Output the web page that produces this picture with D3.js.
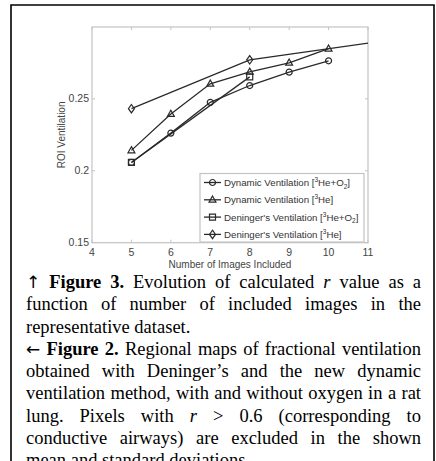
<!DOCTYPE html>
<html>
<head>
<meta charset="utf-8">
<script src="https://cdn.jsdelivr.net/npm/d3@7"></script>
<style>
  html, body { margin: 0; padding: 0; background: #fff; overflow: hidden; }
  #page { position: relative; width: 436px; height: 461px; overflow: hidden; }
  #chart { position: absolute; left: 0; top: 0; }
  #caption { position: absolute; left: 26px; top: 271px; width: 395px;
             font-family: "Liberation Serif", "Times New Roman", serif; font-size: 18.5px; color: #000; }
  .cl { height: 22.3px; line-height: 22.3px; white-space: nowrap; }
  .cl.j { text-align: justify; text-align-last: justify; }
  .arr { font-family: "DejaVu Sans", sans-serif; font-size: 17px; }
</style>
</head>
<body>
<div id="page">
  <svg id="chart" width="436" height="461"></svg>
  <div id="caption"></div>
</div>
<script>
// data
const xTicks = [4, 5, 6, 7, 8, 9, 10, 11];
const yTicks = [0.15, 0.2, 0.25];

const dynO2X = [5, 6, 7, 8, 9, 10];
const dynO2Y = [0.2058, 0.2262, 0.2476, 0.2593, 0.2686, 0.2765];

const dynHeX = [5, 6, 7, 8, 9, 10];
const dynHeY = [0.2142, 0.2395, 0.2605, 0.2688, 0.2751, 0.2849];

const denO2X = [5, 8];
const denO2Y = [0.2058, 0.2653];

const denHeX = [5, 8, 14];
const denHeY = [0.2432, 0.2772, 0.3004];

const seriesNames = [
  ["Dynamic Ventilation [", "3", "He+O", "2", "]"],
  ["Dynamic Ventilation [", "3", "He", "", "]"],
  ["Deninger's Ventilation [", "3", "He+O", "2", "]"],
  ["Deninger's Ventilation [", "3", "He", "", "]"]
];
const markers = ["circle", "triangle", "square", "diamond"];

const captionLines = [
  ["<span class='arr'>\u2191</span> <b>Figure 3.</b> Evolution of calculated <i>r</i> value as a", true],
  ["function of number of included images in the", true],
  ["representative dataset.", false],
  ["<span class='arr'>\u2190</span> <b>Figure 2.</b> Regional maps of fractional ventilation", true],
  ["obtained with Deninger\u2019s and the new dynamic", true],
  ["ventilation method, with and without oxygen in a rat", true],
  ["lung. Pixels with <i>r</i> &gt; 0.6 (corresponding to", true],
  ["conductive airways) are excluded in the shown", true],
  ["mean and standard deviations.", false]
];

const svg = d3.select("#chart");
const plot = { left: 92, right: 368, top: 27, bottom: 242.7 };
const axisColor = "#c4c4c4";
const lineColor = "#2a2a2a";
const labelColor = "#444";
const sansFont = "Liberation Sans, Arial, sans-serif";

// outer frame
svg.append("path")
  .attr("d", "M11,470 L11,5 L434,5 L434,470")
  .attr("fill", "none")
  .attr("stroke", "#000")
  .attr("stroke-width", 1.6);

const x = d3.scaleLinear().domain([4, 11]).range([plot.left, plot.right]);
const y = d3.scaleLinear().domain([0.15, 0.30]).range([plot.bottom, plot.top]);

// axes box
svg.append("rect")
  .attr("x", plot.left).attr("y", plot.top)
  .attr("width", plot.right - plot.left).attr("height", plot.bottom - plot.top)
  .attr("fill", "#fff").attr("stroke", axisColor).attr("stroke-width", 1.2);

const tickLen = 3;
const ticksG = svg.append("g").attr("stroke", axisColor).attr("stroke-width", 1);
xTicks.forEach(t => {
  ticksG.append("line").attr("x1", x(t)).attr("x2", x(t)).attr("y1", plot.bottom).attr("y2", plot.bottom - tickLen);
  ticksG.append("line").attr("x1", x(t)).attr("x2", x(t)).attr("y1", plot.top).attr("y2", plot.top + tickLen);
});
yTicks.forEach(t => {
  ticksG.append("line").attr("x1", plot.left).attr("x2", plot.left + tickLen).attr("y1", y(t)).attr("y2", y(t));
  ticksG.append("line").attr("x1", plot.right).attr("x2", plot.right - tickLen).attr("y1", y(t)).attr("y2", y(t));
});

// tick labels
svg.append("g").selectAll("text")
  .data(xTicks).join("text")
  .attr("x", d => x(d)).attr("y", plot.bottom + 13)
  .attr("text-anchor", "middle")
  .attr("font-family", sansFont).attr("font-size", 10.5).attr("fill", labelColor)
  .text(d => d);

svg.append("g").selectAll("text")
  .data(yTicks).join("text")
  .attr("x", plot.left - 3).attr("y", d => y(d) + 3)
  .attr("text-anchor", "end")
  .attr("font-family", sansFont).attr("font-size", 10.5).attr("fill", labelColor)
  .text(d => d);

svg.append("text")
  .attr("x", (plot.left + plot.right) / 2).attr("y", plot.bottom + 25)
  .attr("text-anchor", "middle")
  .attr("font-family", sansFont).attr("font-size", 10).attr("fill", labelColor)
  .text("Number of Images Included");

svg.append("text")
  .attr("transform", `translate(65,${(plot.top + plot.bottom) / 2}) rotate(-90)`)
  .attr("text-anchor", "middle")
  .attr("font-family", sansFont).attr("font-size", 10).attr("fill", labelColor)
  .text("ROI Ventilation");

// clip for lines
svg.append("defs").append("clipPath").attr("id", "plotClip")
  .append("rect")
  .attr("x", plot.left).attr("y", plot.top)
  .attr("width", plot.right - plot.left).attr("height", plot.bottom - plot.top);

function markerPath(type, s) {
  if (type === "circle") return d3.symbol(d3.symbolCircle, s * s * Math.PI)();
  if (type === "square") return `M${-s},${-s}H${s}V${s}H${-s}Z`;
  if (type === "triangle") return `M0,${-s * 1.25}L${s * 1.15},${s * 0.8}L${-s * 1.15},${s * 0.8}Z`;
  return `M0,${-s * 1.4}L${s},0L0,${s * 1.4}L${-s},0Z`;
}

const allSeries = [
  { xs: dynO2X, ys: dynO2Y },
  { xs: dynHeX, ys: dynHeY },
  { xs: denO2X, ys: denO2Y },
  { xs: denHeX, ys: denHeY }
];

const line = d3.line().x(d => x(d[0])).y(d => y(d[1]));

allSeries.forEach((s, i) => {
  const pts = s.xs.map((v, k) => [v, s.ys[k]]);
  svg.append("path")
    .datum(pts)
    .attr("clip-path", "url(#plotClip)")
    .attr("d", line)
    .attr("fill", "none")
    .attr("stroke", lineColor)
    .attr("stroke-width", 1.3);
  svg.append("g").selectAll("path")
    .data(pts.filter(p => p[0] < 11))
    .join("path")
    .attr("transform", p => `translate(${x(p[0])},${y(p[1])})`)
    .attr("d", markerPath(markers[i], 3))
    .attr("fill", "none")
    .attr("stroke", lineColor)
    .attr("stroke-width", 1.2);
});

// legend
const legend = { x: 200, y: 173.5, w: 164, h: 68.5 };
svg.append("rect")
  .attr("x", legend.x).attr("y", legend.y)
  .attr("width", legend.w).attr("height", legend.h)
  .attr("fill", "#fff").attr("stroke", axisColor).attr("stroke-width", 1.2);

seriesNames.forEach((name, i) => {
  const ly = legend.y + 9 + i * 17.3;
  svg.append("line")
    .attr("x1", legend.x + 4).attr("x2", legend.x + 21)
    .attr("y1", ly).attr("y2", ly)
    .attr("stroke", lineColor).attr("stroke-width", 1.3);
  svg.append("path")
    .attr("transform", `translate(${legend.x + 12.5},${ly})`)
    .attr("d", markerPath(markers[i], 3))
    .attr("fill", "none").attr("stroke", lineColor).attr("stroke-width", 1.2);
  const t = svg.append("text")
    .attr("x", legend.x + 24).attr("y", ly + 3.5)
    .attr("font-family", sansFont).attr("font-size", 9.7).attr("fill", "#333");
  t.append("tspan").text(name[0]);
  t.append("tspan").attr("font-size", 6.5).attr("dy", -4).text(name[1]);
  t.append("tspan").attr("dy", 4).text(name[2]);
  if (name[3]) t.append("tspan").attr("font-size", 6.5).attr("dy", 2.5).text(name[3]);
  t.append("tspan").attr("dy", name[3] ? -2.5 : 0).text(name[4]);
});

// caption below the figure
d3.select("#caption").selectAll("div")
  .data(captionLines).join("div")
  .attr("class", d => d[1] ? "cl j" : "cl")
  .html(d => d[0]);
</script>
</body>
</html>
